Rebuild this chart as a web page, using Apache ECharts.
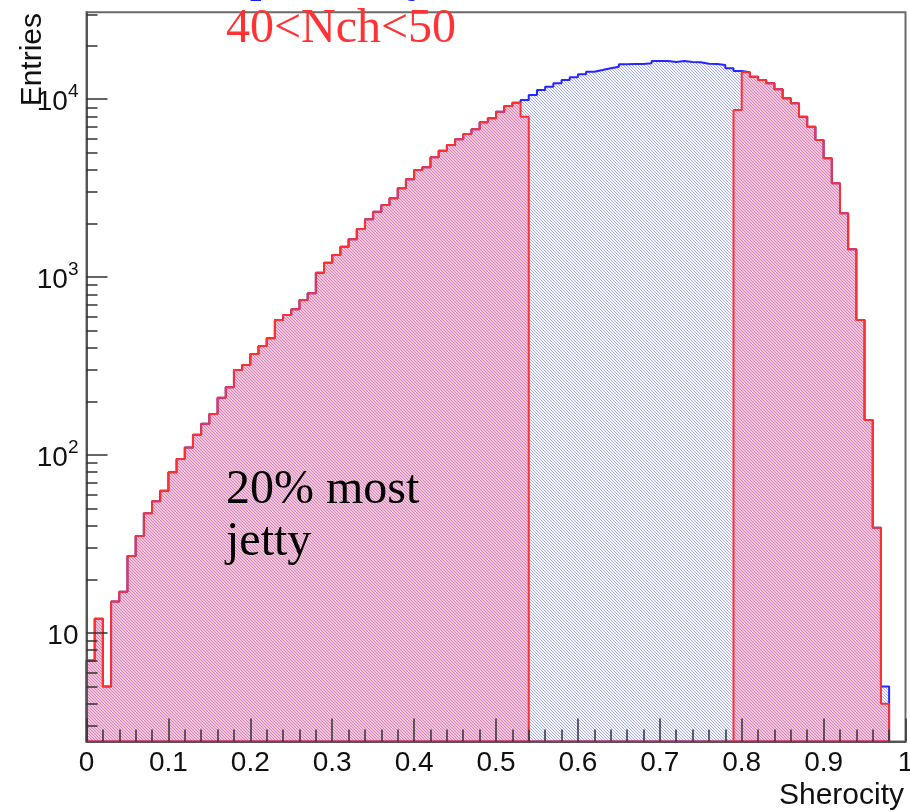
<!DOCTYPE html>
<html>
<head>
<meta charset="utf-8">
<script src="https://cdn.jsdelivr.net/npm/echarts@6/dist/echarts.min.js"></script>
<style>
  html, body { margin: 0; padding: 0; background: #ffffff; }
  #chart { width: 910px; height: 812px; }
</style>
</head>
<body>
<div id="chart"></div>
<script>
// Histogram binning: 98 bins of width 0.01 starting at 0
const BIN_WIDTH = 0.01;

// All events (entries per bin)
const allEntries = [
  7, 12, 5, 15, 17, 27, 35, 47, 55, 63,
  80, 95, 110, 130, 150, 170, 210, 240, 300, 320,
  370, 410, 453, 574, 612, 659, 743, 811, 1059, 1205,
  1331, 1482, 1630, 1863, 2113, 2333, 2543, 2774, 3158, 3546,
  4000, 4143, 4713, 5136, 5530, 5955, 6374, 6772, 7417, 7811,
  8511, 9162, 9558, 9900, 10560, 11265, 11760, 12290, 12820, 13280,
  13800, 14280, 14590, 14920, 15230, 15710, 15760, 15760, 15910, 16390,
  16390, 16190, 16390, 16190, 16120, 15830, 15760, 15570, 14920, 14400,
  14160, 13380, 12820, 12290, 11370, 10120, 9484, 7974, 7003, 5898,
  4654, 3368, 2284, 1433, 574, 157, 39, 5
];

// Selected events: lowest and highest 20% tails (0 = bin not selected)
const selectedEntries = [
  7, 12, 5, 15, 17, 27, 35, 47, 55, 63,
  80, 95, 110, 130, 150, 170, 210, 240, 300, 320,
  370, 410, 453, 574, 612, 659, 743, 811, 1059, 1205,
  1331, 1482, 1630, 1863, 2113, 2333, 2543, 2774, 3158, 3546,
  4000, 4143, 4713, 5136, 5530, 5955, 6374, 6772, 7417, 7811,
  8511, 9162, 9558, 7976, 0, 0, 0, 0, 0, 0,
  0, 0, 0, 0, 0, 0, 0, 0, 0, 0,
  0, 0, 0, 0, 0, 0, 0, 0, 0, 8700,
  14160, 13380, 12820, 12290, 11370, 10120, 9484, 7974, 7003, 5898,
  4654, 3368, 2284, 1433, 574, 157, 39, 4
];

// Axis ranges and tick values
const Y_MIN = 2.45;
const Y_MAX = 30800;
const yMajorTicks = [10, 100, 1000, 10000];
const yMinorTicks = [
  3, 4, 5, 6, 7, 8, 9,
  20, 30, 40, 50, 60, 70, 80, 90,
  200, 300, 400, 500, 600, 700, 800, 900,
  2000, 3000, 4000, 5000, 6000, 7000, 8000, 9000,
  20000, 30000
];

// Outline of a histogram as a closed step polygon (empty bins sit on the axis floor)
function stepOutline(values) {
  const pts = [[0, Y_MIN]];
  values.forEach(function (v, i) {
    const y = v > 0 ? v : Y_MIN;
    pts.push([+(i * BIN_WIDTH).toFixed(4), y], [+((i + 1) * BIN_WIDTH).toFixed(4), y]);
  });
  pts.push([+(values.length * BIN_WIDTH).toFixed(4), Y_MIN]);
  pts.push([0, Y_MIN]);
  return pts;
}

// Diagonal hatch tile used as a fill pattern
function hatchTile(stripe, gap, period) {
  const size = period * 6;
  const c = document.createElement('canvas');
  c.width = size; c.height = size;
  const ctx = c.getContext('2d');
  const img = ctx.createImageData(size, size);
  for (let y = 0; y < size; y++) {
    for (let x = 0; x < size; x++) {
      const on = (((x - y) % period) + period) % period === 0;
      const col = on ? stripe : gap;
      const k = (y * size + x) * 4;
      img.data[k] = col[0]; img.data[k + 1] = col[1]; img.data[k + 2] = col[2]; img.data[k + 3] = 255;
    }
  }
  ctx.putImageData(img, 0, 0);
  return c;
}

const blueHatch = hatchTile([168, 176, 245], [247, 248, 255], 3);

const chart = echarts.init(document.getElementById('chart'), null, { renderer: 'canvas' });

const sansFont = "'Liberation Sans', Arial, Helvetica, sans-serif";
const serifFont = "'Liberation Serif', 'Times New Roman', serif";
const tickColor = '#333333';

chart.setOption({
  animation: false,
  backgroundColor: '#ffffff',
  grid: {
    left: 86.5, top: 12.3, width: 819, height: 729.2,
    containLabel: false, outerBoundsMode: 'none',
    show: true, borderColor: '#6a6a6a', borderWidth: 2, backgroundColor: 'transparent'
  },
  xAxis: {
    type: 'value', min: 0, max: 1, interval: 0.1, z: 10,
    axisLine: { show: true, onZero: false, lineStyle: { color: '#555555', width: 2 } },
    axisTick: { show: true, inside: true, length: 23, lineStyle: { color: tickColor, width: 1.5 } },
    minorTick: { show: true, splitNumber: 5, length: 12, lineStyle: { color: tickColor, width: 1.5 } },
    axisLabel: { fontSize: 28, color: '#111111', margin: 8, fontFamily: sansFont },
    splitLine: { show: false }, minorSplitLine: { show: false }
  },
  yAxis: [
    {
      type: 'log', logBase: 10, min: Y_MIN, max: Y_MAX, position: 'left', z: 10,
      axisLine: { show: true, lineStyle: { color: '#555555', width: 2 } },
      axisTick: { show: true, inside: true, length: 21, customValues: yMajorTicks,
                  lineStyle: { color: tickColor, width: 1.5 } },
      axisLabel: {
        customValues: yMajorTicks, margin: 8, fontFamily: sansFont, color: '#111111',
        formatter: function (v) {
          const e = Math.round(Math.log10(v));
          return e === 1 ? '{b|10}' : '{b|10}{s|' + e + '}';
        },
        rich: {
          b: { fontSize: 28, lineHeight: 34, fontFamily: sansFont, color: '#111111', verticalAlign: 'bottom' },
          s: { fontSize: 19, lineHeight: 12, fontFamily: sansFont, color: '#111111', verticalAlign: 'top' }
        }
      },
      splitLine: { show: false }, minorTick: { show: false }
    },
    {
      type: 'log', logBase: 10, min: Y_MIN, max: Y_MAX, position: 'left', offset: 0, z: 10,
      axisLine: { show: false },
      axisTick: { show: true, inside: true, length: 11, customValues: yMinorTicks,
                  lineStyle: { color: tickColor, width: 1.5 } },
      axisLabel: { show: false },
      splitLine: { show: false }, minorTick: { show: false }
    }
  ],
  series: [
    {
      name: 'all', type: 'line', yAxisIndex: 0, data: stepOutline(allEntries),
      symbol: 'none', clip: false, z: 2,
      lineStyle: { color: '#2626ff', width: 2 },
      areaStyle: { origin: 'start', opacity: 1, color: { image: blueHatch, repeat: 'repeat' } }
    },
    {
      name: 'selected', type: 'line', yAxisIndex: 0, data: stepOutline(selectedEntries),
      symbol: 'none', clip: false, z: 3,
      lineStyle: { color: '#ff3030', width: 2 },
      areaStyle: { origin: 'start', color: 'rgba(255, 60, 95, 0.41)' }
    }
  ],
  graphic: [
    { type: 'text', x: 223, y: -22, z: 20,
      style: { text: 'Spherocity', font: '48px ' + serifFont, fill: '#1a1aff', align: 'left', verticalAlign: 'middle' } },
    { type: 'text', x: 226, y: 29, z: 20,
      style: { text: '40<Nch<50', font: '48px ' + serifFont, fill: '#ff3333', align: 'left', verticalAlign: 'middle' } },
    { type: 'text', x: 226, y: 490, z: 20,
      style: { text: '20% most', font: '48px ' + serifFont, fill: '#000000', align: 'left', verticalAlign: 'middle' } },
    { type: 'text', x: 226, y: 542, z: 20,
      style: { text: 'jetty', font: '48px ' + serifFont, fill: '#000000', align: 'left', verticalAlign: 'middle' } },
    { type: 'text', x: 904, y: 796, z: 20,
      style: { text: 'Sherocity', font: '30px ' + sansFont, fill: '#111111', align: 'right', verticalAlign: 'middle' } },
    { type: 'text', x: 33, y: 13, rotation: Math.PI / 2, z: 20,
      style: { text: 'Entries', font: '30px ' + sansFont, fill: '#111111', align: 'right', verticalAlign: 'middle' } }
  ]
});
</script>
</body>
</html>
